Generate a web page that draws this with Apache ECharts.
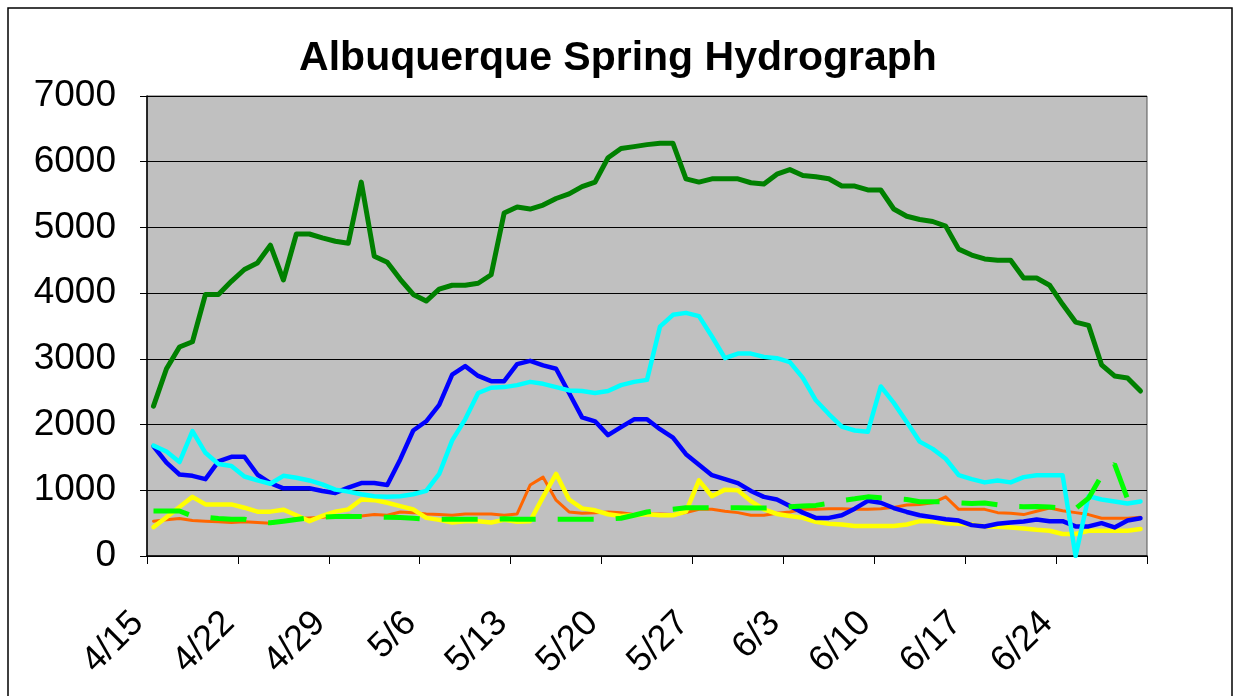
<!DOCTYPE html>
<html>
<head>
<meta charset="utf-8">
<title>Albuquerque Spring Hydrograph</title>
<script src="https://cdn.jsdelivr.net/npm/echarts@6/dist/echarts.min.js"></script>
<style>
  html, body { margin: 0; padding: 0; background: #fff; }
  #chart { width: 1236px; height: 696px; }
</style>
</head>
<body>
<div id="chart"></div>
<script>
// daily categories 4/15 .. 6/30
const startMonth = 4
const startDay = 15
const dayCount = 77
const monthDays = { 4: 30, 5: 31, 6: 30 }

const days = []
let m = startMonth, d = startDay
for (let i = 0; i < dayCount; i++) {
  days.push(m + '/' + d)
  d++
  if (d > monthDays[m]) { m++; d = 1 }
}

const yTicks = [0, 1000, 2000, 3000, 4000, 5000, 6000, 7000]

// flows
const darkGreen = [2280, 2850, 3180, 3260, 3980, 3980, 4180, 4360, 4460, 4730, 4200, 4900, 4900, 4840, 4790,
  4760, 5690, 4560, 4470, 4210, 3980, 3880, 4060, 4120, 4120, 4150, 4280, 5220, 5310, 5280, 5340,
  5440, 5510, 5620, 5690, 6060, 6200, 6230, 6260, 6280, 6280, 5740, 5690, 5740, 5740, 5740,
  5680, 5660, 5810, 5880, 5790, 5770, 5740, 5630, 5630, 5570, 5570, 5280, 5170, 5120, 5090, 5020,
  4670, 4580, 4520, 4500, 4500, 4230, 4230, 4120, 3830, 3560, 3510, 2910, 2740, 2710, 2510]

const cyan = [1680, 1590, 1430, 1900, 1570, 1400, 1370, 1210, 1150, 1100, 1220, 1190, 1150, 1090, 1010,
  980, 940, 910, 900, 910, 940, 990, 1250, 1760, 2080, 2480, 2560, 2570, 2600, 2650, 2620,
  2570, 2520, 2510, 2480, 2510, 2600, 2650, 2680, 3490, 3670, 3700, 3650, 3340, 3010, 3080,
  3080, 3030, 3010, 2950, 2710, 2370, 2160, 1970, 1910, 1890, 2580, 2330, 2040, 1740, 1630, 1480,
  1230, 1170, 1120, 1150, 1120, 1200, 1230, 1230, 1230, 0, 910, 860, 830, 800, 830]

const blue = [1670, 1420, 1240, 1220, 1170, 1440, 1510, 1510, 1240, 1110, 1030, 1030, 1030, 990, 960,
  1040, 1110, 1110, 1080, 1470, 1910, 2050, 2300, 2760, 2890, 2740, 2660, 2660, 2920, 2970, 2900,
  2850, 2480, 2110, 2050, 1840, 1960, 2080, 2080, 1930, 1800, 1550, 1390, 1230, 1170, 1110,
  990, 900, 860, 760, 660, 580, 580, 620, 720, 840, 810, 730, 670, 620, 590, 560,
  540, 470, 450, 490, 510, 525, 555, 530, 530, 450, 450, 500, 435, 540, 575]

const orange = [530, 550, 570, 540, 530, 520, 510, 520, 510, 500, 530, 570, 580, 590, 610,
  620, 610, 630, 620, 670, 660, 640, 630, 620, 640, 640, 640, 620, 640, 1080, 1200,
  850, 670, 650, 660, 670, 660, 630, 640, 640, 630, 660, 710, 710, 680, 660,
  620, 620, 650, 670, 710, 710, 720, 720, 710, 710, 720, 740, 775, 785, 810, 900,
  710, 710, 710, 660, 650, 630, 680, 730, 690, 660, 630, 575, 575, 575, 590]

const yellow = [440, 590, 745, 900, 785, 785, 785, 735, 675, 675, 705, 620, 530, 610, 675,
  710, 860, 850, 810, 760, 710, 580, 550, 510, 530, 530, 510, 550, 520, 530, 900,
  1250, 860, 725, 695, 635, 610, 620, 635, 620, 620, 675, 1150, 910, 1010, 1000,
  835, 710, 640, 610, 580, 520, 490, 480, 455, 455, 455, 455, 480, 530, 530, 500,
  490, 480, 450, 445, 435, 420, 400, 385, 335, 335, 385, 385, 385, 385, 410]

const limeDashed = [685, 685, 685, 610, 590, 570, 560, 560, 515, 505, 530, 555, 580, 590, 600,
  600, 600, 595, 590, 585, 575, 560, 560, 560, 560, 560, 560, 565, 560, 560, 560,
  560, 560, 560, 560, 560, 575, 620, 670, 695, 710, 735, 735, 735, 735, 735,
  730, 730, 735, 750, 760, 770, 800, 845, 870, 900, 885, 875, 860, 825, 825, 825,
  810, 800, 805, 780, 755, 750, 755, 745, 730, 720, 880, 1220, 1400, 870, 740]

const chart = echarts.init(document.getElementById('chart'))

function solid (name, data, color, width) {
  return {
    name: name,
    type: 'line',
    data: data,
    symbol: 'none',
    lineStyle: { color: color, width: width, cap: 'round', join: 'round' },
    itemStyle: { color: color }
  }
}

const option = {
  animation: false,
  backgroundColor: '#ffffff',
  textStyle: { fontFamily: 'Liberation Sans, Arial, sans-serif', color: '#000' },
  title: {
    text: 'Albuquerque Spring Hydrograph',
    left: 'center',
    top: 33,
    textStyle: { fontSize: 41, fontWeight: 'bold', color: '#000', fontFamily: 'Liberation Sans, Arial, sans-serif' }
  },
  graphic: [{
    type: 'rect',
    shape: { x: 8, y: 8, width: 1224, height: 700 },
    style: { fill: 'none', stroke: '#000', lineWidth: 1.5 },
    silent: true
  }],
  grid: {
    left: 147,
    right: 89,
    top: 96,
    bottom: 140,
    show: true,
    backgroundColor: '#c0c0c0',
    borderColor: '#555',
    borderWidth: 1
  },
  xAxis: {
    type: 'category',
    data: days,
    boundaryGap: true,
    axisLine: { lineStyle: { color: '#000', width: 1.5 } },
    axisTick: { show: true, interval: 6, length: 8, lineStyle: { color: '#000' } },
    axisLabel: {
      interval: 6,
      rotate: 45,
      margin: 46,
      padding: [0, 22, 0, 0],
      fontSize: 36,
      color: '#000',
      fontFamily: 'Liberation Sans, Arial, sans-serif'
    },
    splitLine: { show: false }
  },
  yAxis: {
    type: 'value',
    min: yTicks[0],
    max: yTicks[yTicks.length - 1],
    interval: 1000,
    axisLine: { show: true, lineStyle: { color: '#000', width: 1.5 } },
    axisTick: { show: true, length: 7, lineStyle: { color: '#000' } },
    axisLabel: {
      margin: 31,
      fontSize: 37,
      color: '#000',
      fontFamily: 'Liberation Sans, Arial, sans-serif',
      formatter: function (v) { return String(v) }
    },
    splitLine: { show: true, lineStyle: { color: '#000', width: 1 } }
  },
  series: [
    solid('Orange', orange, '#ff6600', 3),
    solid('Yellow', yellow, '#ffff00', 4.5),
    solid('Blue', blue, '#0000ff', 4.5),
    solid('Cyan', cyan, '#00ffff', 4.5),
    {
      name: 'Lime',
      type: 'line',
      data: limeDashed,
      symbol: 'none',
      lineStyle: { color: '#00ff00', width: 5, type: [36, 22], cap: 'butt' },
      itemStyle: { color: '#00ff00' }
    },
    solid('Green', darkGreen, '#008000', 5)
  ]
}

chart.setOption(option)
</script>
</body>
</html>
